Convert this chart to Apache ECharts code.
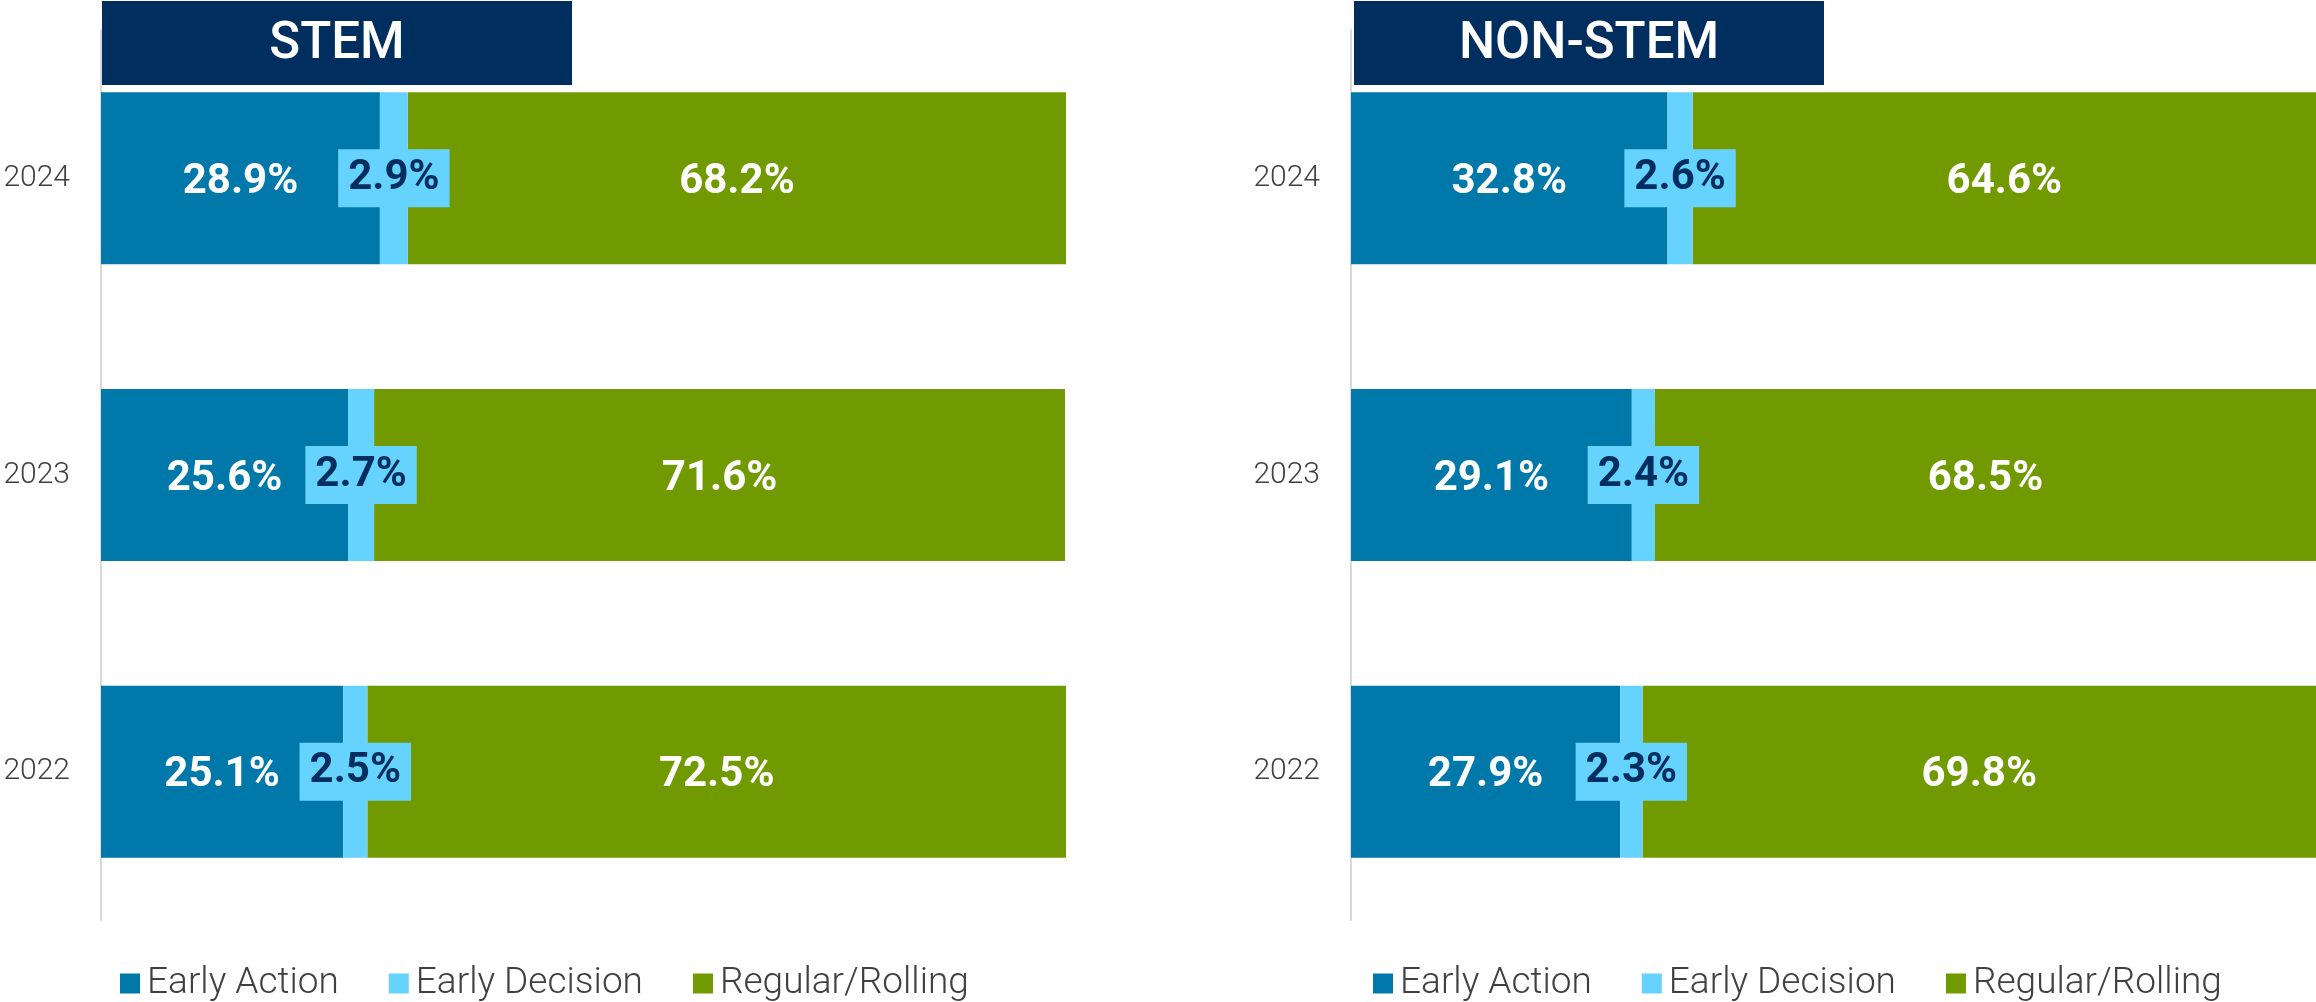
<!DOCTYPE html>
<html>
<head>
<meta charset="utf-8">
<style>
  html, body { margin: 0; padding: 0; background: #ffffff; }
  #chart { width: 2316px; height: 1002px; }
</style>
<script src="https://cdn.jsdelivr.net/npm/echarts@6/dist/echarts.min.js"></script>
</head>
<body>
<div id="chart"></div>
<script>
// ---- Data ----
const years = ['2022', '2023', '2024'];
const seriesNames = ['Early Action', 'Early Decision', 'Regular/Rolling'];
const panelTitles = ['STEM', 'NON-STEM'];

const stemEarlyAction = [25.1, 25.6, 28.9];
const stemEarlyDecision = [2.5, 2.7, 2.9];
const stemRegular = [72.5, 71.6, 68.2];

const nonStemEarlyAction = [27.9, 29.1, 32.8];
const nonStemEarlyDecision = [2.3, 2.4, 2.6];
const nonStemRegular = [69.8, 68.5, 64.6];

// ---- Styles ----
const colors = ['#0079aa', '#66d3ff', '#719a00'];
const navy = '#002e5f';
const fontFamily = 'Roboto, "Noto Sans", sans-serif';

const chart = echarts.init(document.getElementById('chart'), null, { renderer: 'canvas' });

const grids = [
  { left: 101, top: 30, width: 965, height: 890 },
  { left: 1351, top: 30, width: 965, height: 890 }
];

function fmt(v) { return (typeof v === 'object' ? v.value : v).toFixed(1) + '%'; }

function makeSeries(gridIndex, ea, ed, rr) {
  const stack = 'st' + gridIndex;
  const base = {
    type: 'bar', stack: stack, barWidth: 172,
    xAxisIndex: gridIndex, yAxisIndex: gridIndex,
    emphasis: { disabled: true }
  };
  return [
    Object.assign({}, base, {
      name: seriesNames[0], data: ea,
      itemStyle: { color: colors[0] },
      label: { show: true, position: 'inside', formatter: p => fmt(p.value), offset: [0, 4],
        color: '#ffffff', fontSize: 42, fontWeight: 'bold', fontFamily: fontFamily }
    }),
    Object.assign({}, base, {
      name: seriesNames[1], data: ed,
      itemStyle: { color: colors[1] },
      label: { show: true, position: 'inside', formatter: p => fmt(p.value),
        color: navy, fontSize: 42, fontWeight: 'bold', fontFamily: fontFamily,
        backgroundColor: colors[1], padding: [11, 10, 5, 10], lineHeight: 42 },
      z: 3
    }),
    Object.assign({}, base, {
      name: seriesNames[2], data: rr,
      itemStyle: { color: colors[2] },
      label: { show: true, position: 'inside', formatter: p => fmt(p.value), offset: [0, 4],
        color: '#ffffff', fontSize: 42, fontWeight: 'bold', fontFamily: fontFamily }
    })
  ];
}

function makeLegend(left) {
  return {
    left: left, top: 960,
    itemWidth: 20, itemHeight: 20, itemGap: 50,
    icon: 'rect',
    selectedMode: false,
    data: seriesNames,
    textStyle: { fontSize: 37, color: '#404040', fontFamily: fontFamily, fontWeight: 300,
      padding: [0, 0, 0, 2] }
  };
}

function titleBox(x, text) {
  return {
    type: 'group', left: x, top: 1,
    children: [
      { type: 'rect', shape: { x: 0, y: 0, width: 470, height: 84 }, style: { fill: navy } },
      { type: 'text', x: 235, y: 44,
        style: { text: text, fill: '#ffffff', font: '500 51px ' + fontFamily,
          textAlign: 'center', textVerticalAlign: 'middle' } }
    ]
  };
}

const option = {
  animation: false,
  backgroundColor: '#ffffff',
  grid: grids,
  xAxis: grids.map((g, i) => ({
    type: 'value', gridIndex: i, min: 0, max: 100, show: false
  })),
  yAxis: grids.map((g, i) => ({
    type: 'category', gridIndex: i, data: years,
    axisLine: { show: true, lineStyle: { color: '#d9d9d9', width: 2 } },
    axisTick: { show: false },
    axisLabel: { fontSize: 30, color: '#404040', fontFamily: fontFamily, fontWeight: 300,
      margin: 31, padding: [7, 0, 0, 0] }
  })),
  legend: [makeLegend(115), makeLegend(1368)],
  graphic: [titleBox(102, panelTitles[0]), titleBox(1354, panelTitles[1])],
  series: [].concat(
    makeSeries(0, stemEarlyAction, stemEarlyDecision, stemRegular),
    makeSeries(1, nonStemEarlyAction, nonStemEarlyDecision, nonStemRegular)
  )
};

chart.setOption(option);
</script>
</body>
</html>
